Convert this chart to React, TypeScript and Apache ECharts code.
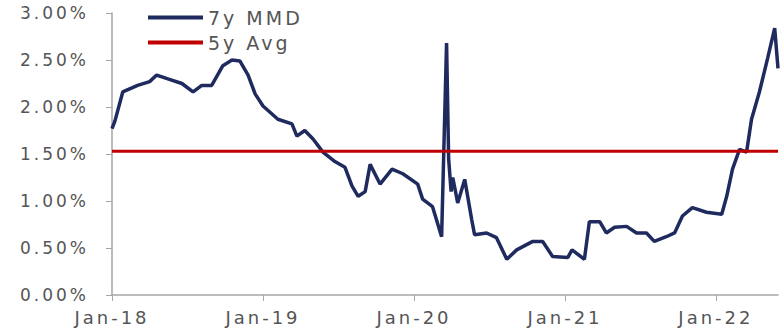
import React, { useEffect, useRef } from "react";
import * as echarts from "echarts";

const dates = [
  "2018-01-01", "2018-01-08", "2018-01-27", "2018-03-04", "2018-04-02", "2018-04-19", "2018-05-16",
  "2018-06-19", "2018-07-16", "2018-08-06", "2018-08-30", "2018-09-26", "2018-10-18",
  "2018-11-06", "2018-11-26", "2018-12-13", "2019-01-01", "2019-02-06", "2019-03-12",
  "2019-03-24", "2019-04-12", "2019-05-02", "2019-05-26", "2019-06-24", "2019-07-18",
  "2019-08-04", "2019-08-19", "2019-09-05", "2019-09-17", "2019-10-11", "2019-11-09",
  "2019-12-05", "2020-01-10", "2020-01-22", "2020-02-15", "2020-03-08", "2020-03-20",
  "2020-03-25", "2020-03-31", "2020-04-04", "2020-04-16", "2020-05-03", "2020-05-20",
  "2020-05-27", "2020-06-25", "2020-07-19", "2020-08-13", "2020-09-06", "2020-10-15",
  "2020-11-08", "2020-12-02", "2021-01-08", "2021-01-18", "2021-02-17", "2021-03-01",
  "2021-03-26", "2021-04-11", "2021-05-01", "2021-05-30", "2021-06-23", "2021-07-17",
  "2021-08-05", "2021-09-03", "2021-09-23", "2021-10-12", "2021-11-05", "2021-12-09",
  "2022-01-15", "2022-01-27", "2022-02-10", "2022-02-27", "2022-03-16", "2022-03-28",
  "2022-04-16", "2022-05-06", "2022-05-23", "2022-05-31",
];

const mmd = [
  1.77, 1.85, 2.16, 2.23, 2.27, 2.34, 2.3,
  2.25, 2.16, 2.23, 2.23, 2.44, 2.5,
  2.49, 2.34, 2.14, 2.01, 1.87, 1.82,
  1.69, 1.75, 1.66, 1.52, 1.42, 1.36,
  1.16, 1.05, 1.1, 1.39, 1.18, 1.34,
  1.29, 1.18, 1.02, 0.94, 0.62, 2.68,
  1.45, 1.1, 1.25, 0.98, 1.23, 0.8,
  0.64, 0.66, 0.61, 0.38, 0.48, 0.57,
  0.57, 0.41, 0.4, 0.48, 0.38, 0.78,
  0.78, 0.66, 0.72, 0.73, 0.66, 0.66,
  0.57, 0.62, 0.66, 0.84, 0.93, 0.88,
  0.86, 1.05, 1.34, 1.55, 1.52, 1.87,
  2.16, 2.52, 2.84, 2.41,
];

const avgValue = 1.53;
const seriesNames = ["7y MMD", "5y Avg"];
const axisStart = "2018-01-01";
const axisEnd = "2022-05-31";

function toYear(d: string): number {
  const [y, m, dd] = d.split("-").map(Number);
  const start = Date.UTC(y, 0, 1);
  const end = Date.UTC(y + 1, 0, 1);
  return y + (Date.UTC(y, m - 1, dd) - start) / (end - start);
}

export default function App() {
  const ref = useRef<HTMLDivElement>(null);
  useEffect(() => {
    if (!ref.current) return;
    const chart = echarts.init(ref.current, undefined, { renderer: "svg" });
    const xMin = toYear(axisStart);
    const xMax = toYear(axisEnd);
    const font = "'DejaVu Sans', Verdana, sans-serif";
    const textColor = "#555555";
    chart.setOption({
      animation: false,
      backgroundColor: "#ffffff",
      grid: { left: 112, right: 2, top: 13, bottom: 34 },
      legend: {
        orient: "vertical",
        left: 148,
        top: 8,
        padding: 0,
        itemWidth: 55,
        itemHeight: 4,
        itemGap: 6,
        icon: "rect",
        textStyle: { fontFamily: font, fontSize: 19, color: textColor },
        data: seriesNames,
      },
      xAxis: {
        type: "value",
        min: xMin,
        max: xMax,
        interval: 1,
        splitLine: { show: false },
        axisLine: { show: true, lineStyle: { color: "#a6a6a6", width: 1.5 } },
        axisTick: { show: true, length: 6, lineStyle: { color: "#a6a6a6" } },
        axisLabel: {
          fontFamily: font,
          fontSize: 18,
          color: textColor,
          margin: 13,
          showMaxLabel: false,
          formatter: (v: number) => "Jan-" + String(Math.round(v)).slice(2),
        },
      },
      yAxis: {
        type: "value",
        min: 0,
        max: 3,
        interval: 0.5,
        splitLine: { show: false },
        axisLine: { show: true, lineStyle: { color: "#a6a6a6", width: 1.5 } },
        axisTick: { show: true, length: 6, lineStyle: { color: "#a6a6a6" } },
        axisLabel: {
          fontFamily: font,
          fontSize: 17,
          color: textColor,
          margin: 23,
          formatter: (v: number) => v.toFixed(2) + "%",
        },
      },
      series: [
        {
          name: seriesNames[0],
          type: "line",
          showSymbol: false,
          symbol: "none",
          data: dates.map((d, i) => [toYear(d), mmd[i]]),
          lineStyle: { color: "#1f2a5e", width: 3.5 },
          itemStyle: { color: "#1f2a5e" },
          z: 3,
        },
        {
          name: seriesNames[1],
          type: "line",
          showSymbol: false,
          symbol: "none",
          data: [
            [xMin, avgValue],
            [xMax, avgValue],
          ],
          lineStyle: { color: "#c00000", width: 3 },
          itemStyle: { color: "#c00000" },
          z: 4,
        },
      ],
    });
    return () => chart.dispose();
  }, []);
  return (
    <>
      <style>{"#mmd-chart svg text { letter-spacing: 3px; }"}</style>
      <div
        id="mmd-chart"
        ref={ref}
        style={{ position: "fixed", left: 0, top: 0, width: 780, height: 329, background: "#fff" }}
      />
    </>
  );
}
